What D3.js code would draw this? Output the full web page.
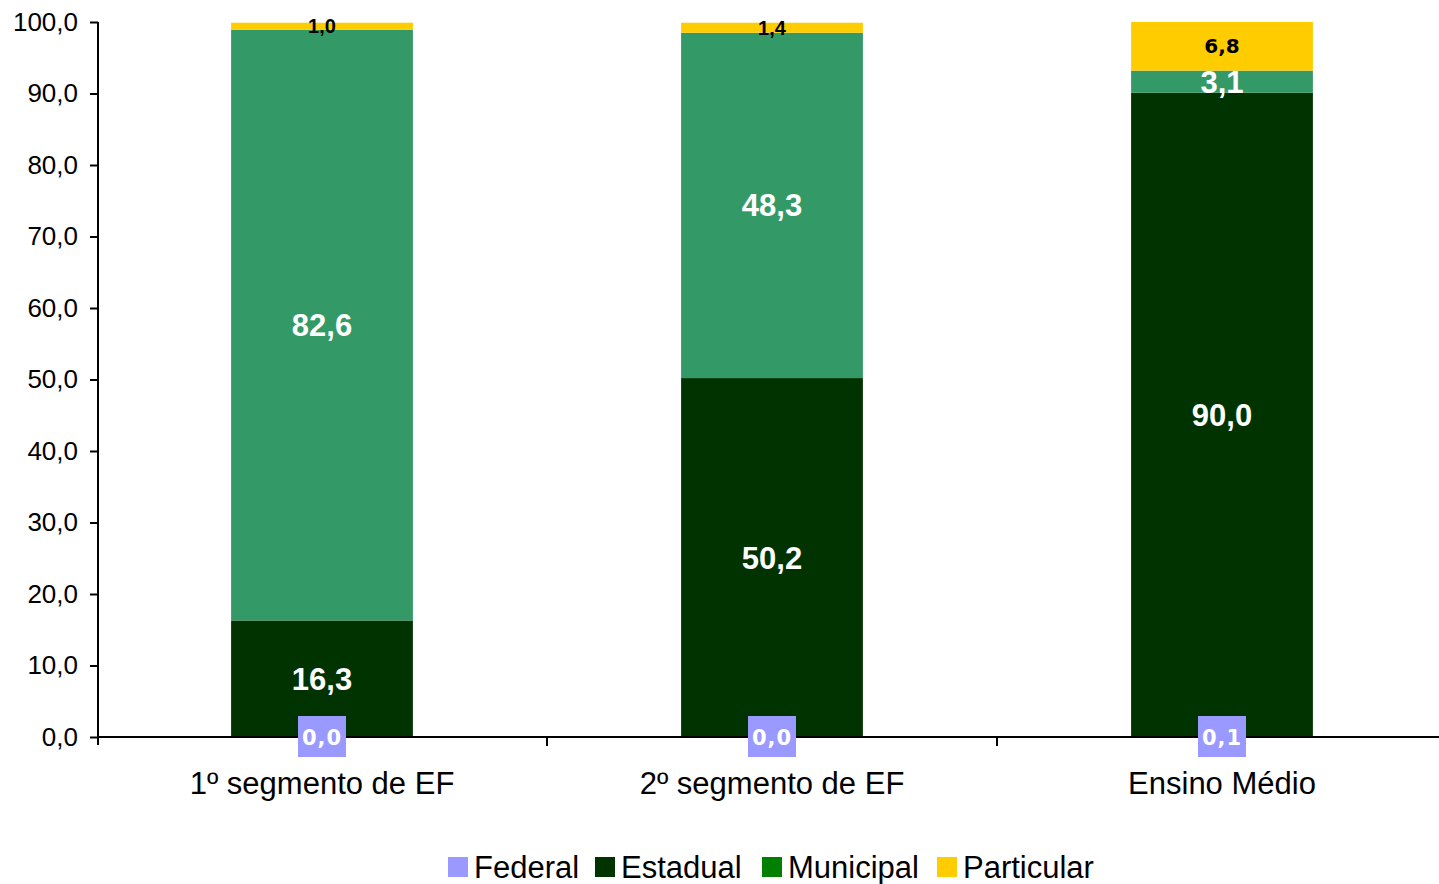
<!DOCTYPE html>
<html>
<head>
<meta charset="utf-8">
<script src="https://cdn.jsdelivr.net/npm/d3@7"></script>
<style>
body { margin: 0; background: #fff; }
text { font-family: "Liberation Sans", Arial, sans-serif; }
</style>
</head>
<body>
<svg id="chart"></svg>
<script>
// chart data
var categories = ["1º segmento de EF", "2º segmento de EF", "Ensino Médio"];
var seriesNames = ["Federal", "Estadual", "Municipal", "Particular"];
var federal = [0.0, 0.0, 0.1];
var estadual = [16.3, 50.2, 90.0];
var municipal = [82.6, 48.3, 3.1];
var particular = [1.0, 1.4, 6.8];
var yTicks = [0, 10, 20, 30, 40, 50, 60, 70, 80, 90, 100];

var barColors = ["#9999ff", "#003300", "#339966", "#ffcc00"];
var legendColors = ["#9999ff", "#003300", "#008000", "#ffcc00"];

var svgWidth = 1439, svgHeight = 884;
var svg = d3.select("#chart").attr("width", svgWidth).attr("height", svgHeight);

var rows = categories.map(function(c, i) {
  return { cat: c, Federal: federal[i], Estadual: estadual[i], Municipal: municipal[i], Particular: particular[i] };
});
var stacked = d3.stack().keys(seriesNames)(rows);

var x = d3.scaleBand().domain(categories).range([97, 1447]).paddingInner(0).paddingOuter(0);
var y = d3.scaleLinear().domain([0, 100]).range([737, 22]);
var barW = x.bandwidth() * 0.404;

function fmt(v) { return v.toFixed(1).replace(".", ","); }

// bars
stacked.forEach(function(s, si) {
  svg.append("g").selectAll("rect").data(s).enter().append("rect")
    .attr("x", function(d, i) { return x(categories[i]) + x.bandwidth() / 2 - barW / 2; })
    .attr("y", function(d) { return y(d[1]); })
    .attr("width", barW)
    .attr("height", function(d) { return y(d[0]) - y(d[1]); })
    .style("fill", barColors[si]);
});

// y axis
var yAxis = svg.append("g").attr("transform", "translate(98,0)")
  .call(d3.axisLeft(y).tickValues(yTicks).tickSize(8).tickPadding(12).tickFormat(fmt));
yAxis.select(".domain").attr("stroke", "#000").attr("stroke-width", 2).attr("d", "M0,22V745");
yAxis.selectAll(".tick line").attr("stroke", "#000").attr("stroke-width", 2);
yAxis.selectAll(".tick text").style("font-size", "26px").style("fill", "#000")
  .style("font-family", "'Liberation Sans', Arial, sans-serif");

// x axis
var xAxis = svg.append("g").attr("transform", "translate(0,737)")
  .call(d3.axisBottom(x).tickSize(0).tickPadding(35));
xAxis.select(".domain").attr("stroke", "#000").attr("stroke-width", 2).attr("d", "M98,0H1439");
xAxis.selectAll(".tick text").style("font-size", "31px").style("fill", "#000")
  .style("font-family", "'Liberation Sans', Arial, sans-serif");
// category divider ticks
svg.append("g").selectAll("line").data(categories).enter().append("line")
  .attr("x1", function(d) { return x(d) + x.bandwidth(); })
  .attr("x2", function(d) { return x(d) + x.bandwidth(); })
  .attr("y1", 737).attr("y2", 746)
  .attr("stroke", "#000").attr("stroke-width", 2);

// data labels
var labels = svg.append("g");
stacked.forEach(function(s, si) {
  s.forEach(function(d, i) {
    var cx = x(categories[i]) + x.bandwidth() / 2;
    var v = d[1] - d[0];
    if (si === 0) {
      labels.append("rect").attr("x", cx - 24).attr("y", 716).attr("width", 48).attr("height", 41)
        .style("fill", barColors[0]);
      labels.append("text").attr("x", cx).attr("y", 745).attr("text-anchor", "middle")
        .style("font-size", "21px").style("font-weight", "bold").style("fill", "#fff")
        .style("font-family", "'DejaVu Sans', Verdana, sans-serif").style("letter-spacing", "1px")
        .text(fmt(v));
    } else if (si === 3) {
      var big = v > 3;
      labels.append("text").attr("x", cx).attr("y", y((d[0] + d[1]) / 2) + 7).attr("text-anchor", "middle")
        .style("font-size", "20px").style("font-weight", "bold").style("fill", "#000")
        .style("font-family", big ? "'DejaVu Sans', Verdana, sans-serif" : "'Liberation Sans', Arial, sans-serif")
        .text(fmt(v));
    } else {
      labels.append("text").attr("x", cx).attr("y", y((d[0] + d[1]) / 2) + 11).attr("text-anchor", "middle")
        .style("font-size", "31px").style("font-weight", "bold").style("fill", "#fff")
        .text(fmt(v));
    }
  });
});

// legend
var legendX = [448, 595, 762, 937];
var legend = svg.append("g");
seriesNames.forEach(function(n, i) {
  legend.append("rect").attr("x", legendX[i]).attr("y", 857).attr("width", 20).attr("height", 20)
    .style("fill", legendColors[i]);
  legend.append("text").attr("x", legendX[i] + 26).attr("y", 878)
    .style("font-size", "31px").style("fill", "#000").text(n);
});
</script>
</body>
</html>
